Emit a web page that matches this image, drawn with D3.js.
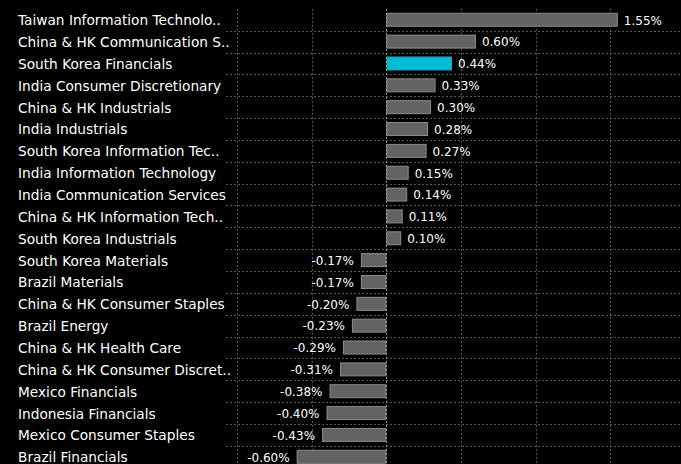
<!DOCTYPE html>
<html><head><meta charset="utf-8">
<script src="https://cdn.jsdelivr.net/npm/d3@7"></script>
<style>
html,body{margin:0;padding:0;background:#000;overflow:hidden;}
text{font-family:"DejaVu Sans",sans-serif;}
</style></head>
<body>
<svg id="chart" width="681" height="464"></svg>
<script>
const categories = [
  "Taiwan Information Technolo..",
  "China & HK Communication S..",
  "South Korea Financials",
  "India Consumer Discretionary",
  "China & HK Industrials",
  "India Industrials",
  "South Korea Information Tec..",
  "India Information Technology",
  "India Communication Services",
  "China & HK Information Tech..",
  "South Korea Industrials",
  "South Korea Materials",
  "Brazil Materials",
  "China & HK Consumer Staples",
  "Brazil Energy",
  "China & HK Health Care",
  "China & HK Consumer Discret..",
  "Mexico Financials",
  "Indonesia Financials",
  "Mexico Consumer Staples",
  "Brazil Financials"
];
const values = [1.55, 0.60, 0.44, 0.33, 0.30, 0.28, 0.27, 0.15, 0.14, 0.11, 0.10,
  -0.17, -0.17, -0.20, -0.23, -0.29, -0.31, -0.38, -0.40, -0.43, -0.60];
const highlighted = ["South Korea Financials"];
const xTicks = [-1.0, -0.5, 0, 0.5, 1.0, 1.5];

const data = categories.map((c, i) => ({ name: c, value: values[i] }));

const svg = d3.select("#chart");
const W = 681, H = 464;
const plotLeft = 226, plotTop = 8.85, plotBottom = 467.7;

const x = d3.scaleLinear().domain([-1.073, 1.973]).range([plotLeft, W]);
const y = d3.scaleBand().domain(categories).range([plotTop, plotBottom])
  .paddingInner(0.36).paddingOuter(0.18);

const grid = svg.append("g");
grid.selectAll("line.v").data(xTicks).join("line")
  .attr("x1", d => Math.round(x(d)) + 0.5).attr("x2", d => Math.round(x(d)) + 0.5)
  .attr("y1", plotTop).attr("y2", H)
  .attr("stroke", "#5a5a5a").attr("stroke-width", 1).attr("stroke-dasharray", "2,2");
const step = y.step();
grid.selectAll("line.h").data(categories.slice(1)).join("line")
  .attr("x1", plotLeft).attr("x2", W)
  .attr("y1", d => Math.round(y(d) - step * 0.18) + 0.5)
  .attr("y2", d => Math.round(y(d) - step * 0.18) + 0.5)
  .attr("stroke", "#5a5a5a").attr("stroke-width", 1).attr("stroke-dasharray", "2,2");

svg.append("g").selectAll("rect").data(data).join("rect")
  .attr("x", d => x(Math.min(0, d.value)) + 0.5)
  .attr("y", d => y(d.name) + 0.5)
  .attr("width", d => Math.abs(x(d.value) - x(0)) - 1)
  .attr("height", y.bandwidth() - 1)
  .attr("fill", d => highlighted.includes(d.name) ? "#00bcd4" : "#636363")
  .attr("stroke", d => highlighted.includes(d.name) ? "#2a9fb0" : "#8c8c8c")
  .attr("stroke-width", 1);

svg.append("line")
  .attr("x1", Math.round(x(0)) + 0.5).attr("x2", Math.round(x(0)) + 0.5)
  .attr("y1", plotTop).attr("y2", H)
  .attr("stroke", "#9a9a9a").attr("stroke-width", 1).attr("stroke-dasharray", "2,2");

const fmt = v => (v < 0 ? "-" : "") + Math.abs(v).toFixed(2) + "%";

svg.append("g").selectAll("text").data(data).join("text")
  .attr("x", d => d.value >= 0 ? x(d.value) + 6 : x(d.value) - 7)
  .attr("y", d => y(d.name) + y.bandwidth() / 2 + 0.5)
  .attr("dy", "0.36em")
  .attr("text-anchor", d => d.value >= 0 ? "start" : "end")
  .attr("fill", "#ffffff").attr("font-size", 12)
  .text(d => fmt(d.value));

svg.append("g").selectAll("text").data(data).join("text")
  .attr("x", 18)
  .attr("y", d => y(d.name) + y.bandwidth() / 2 + 0.5)
  .attr("dy", "0.36em")
  .attr("fill", "#ffffff").attr("font-size", 13.7)
  .text(d => d.name);
</script>
</body></html>
